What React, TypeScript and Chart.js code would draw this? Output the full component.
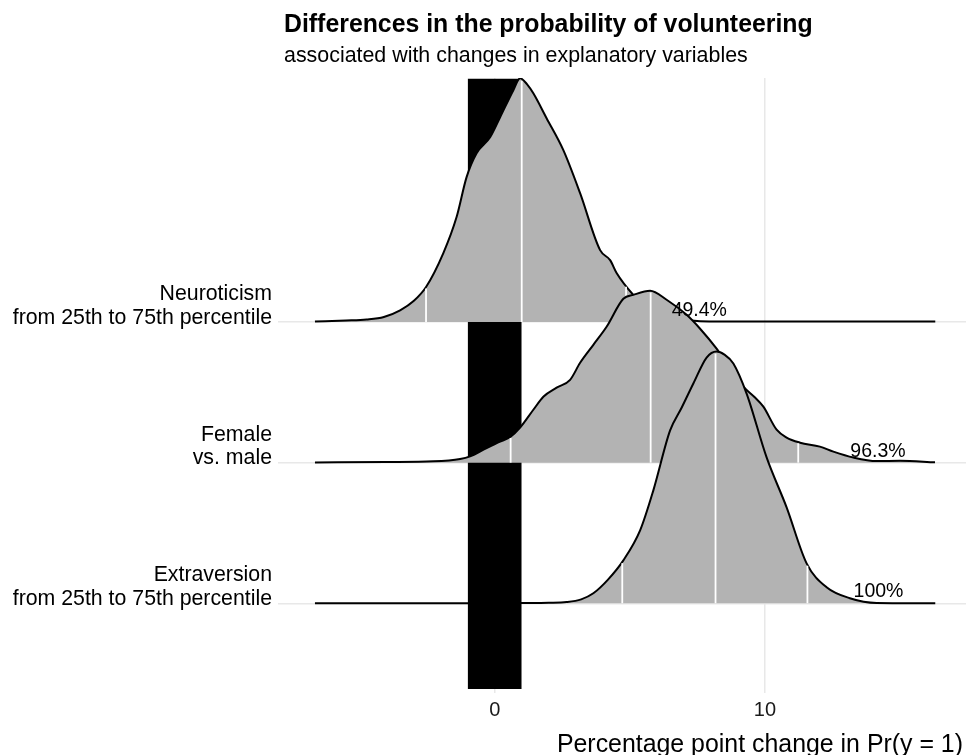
import React, { useEffect, useRef } from 'react';
import { Chart, registerables } from 'chart.js';

Chart.register(...registerables);

const FONT = '"Liberation Sans", Arial, Helvetica, sans-serif';

// Ridge categories (top to bottom) and their baselines on the y scale
const categories = ['Neuroticism', 'Female', 'Extraversion'];
const categoryLabels = [
  ['Neuroticism', 'from 25th to 75th percentile'],
  ['Female', 'vs. male'],
  ['Extraversion', 'from 25th to 75th percentile'],
];
const baselines = [3, 2, 1];

// Density curves (x = percentage-point change, h = ridge height in y units)
const neuroX = [-6.65, -5.5, -4.74, -4.1, -3.5, -3.0, -2.54, -1.9, -1.41, -1.04, -0.67, -0.17, 0.2, 0.69, 0.94, 1.2, 1.43, 1.92, 2.54, 3.16, 3.9, 4.27, 4.51, 5.13, 5.6, 6.1, 6.6, 7.1, 7.6, 8.5, 16.3];
const neuroH = [0.0036, 0.0107, 0.0178, 0.0355, 0.0831, 0.149, 0.249, 0.49, 0.746, 1.03, 1.2, 1.314, 1.456, 1.648, 1.733, 1.69, 1.626, 1.449, 1.222, 0.916, 0.511, 0.44, 0.348, 0.192, 0.107, 0.057, 0.028, 0.014, 0.006, 0.004, 0.003];

const femaleX = [-6.65, -4, -2.27, -1.28, -0.91, -0.3, 0.2, 0.59, 0.94, 1.43, 1.8, 2.29, 2.79, 3.16, 3.65, 4.14, 4.76, 5.13, 5.75, 6.36, 7.1, 7.6, 8.21, 8.7, 9.2, 9.6, 9.94, 10.43, 10.8, 11.3, 12.03, 12.53, 13.27, 14.13, 15, 16.29];
const femaleH = [0.0014, 0.0043, 0.0092, 0.026, 0.045, 0.104, 0.149, 0.185, 0.249, 0.376, 0.469, 0.533, 0.589, 0.71, 0.838, 0.966, 1.165, 1.193, 1.222, 1.158, 1.051, 0.952, 0.81, 0.675, 0.54, 0.469, 0.398, 0.234, 0.178, 0.142, 0.114, 0.078, 0.036, 0.011, 0.014, 0.002];

const extraX = [-6.65, 0, 1.0, 2.0, 2.66, 3.2, 3.65, 4.2, 4.76, 5.38, 5.87, 6.49, 6.92, 7.35, 7.84, 8.21, 8.5, 8.83, 9.32, 10.06, 10.8, 11.54, 12.28, 13.14, 14.13, 16.3];
const extraH = [0, 0.0007, 0.002, 0.004, 0.009, 0.028, 0.071, 0.17, 0.305, 0.518, 0.803, 1.229, 1.392, 1.5625, 1.747, 1.79, 1.768, 1.705, 1.491, 1.037, 0.682, 0.284, 0.114, 0.036, 0.002, 0];

// Quantile lines (2.5%, 50%, 97.5%) per ridge
const quantiles = [
  [-2.54, 1.0, 4.86],
  [0.59, 5.77, 11.23],
  [4.72, 8.17, 11.57],
];

// Share of posterior above zero
const shareLabels = ['49.4%', '96.3%', '100%'];
const shareLabelX = [7.57, 14.18, 14.2];

// Region of practical equivalence (black band)
const ropeLow = -1;
const ropeHigh = 1;

const xTicks = [0, 10];
const xMin = -8.017;
const xMax = 17.437;
const yMin = 0.362;
const yMax = 4.735;
const ropeTop = 4.73;
const ropeBottom = 0.391;

const titleText = 'Differences in the probability of volunteering';
const subtitleText = 'associated with changes in explanatory variables';
const xTitleText = 'Percentage point change in Pr(y = 1)';

const curvesX = [neuroX, femaleX, extraX];
const curvesH = [neuroH, femaleH, extraH];

function heightAt(xs: number[], hs: number[], x: number): number {
  for (let i = 0; i < xs.length - 1; i++) {
    if (x >= xs[i] && x <= xs[i + 1]) {
      const t = (x - xs[i]) / (xs[i + 1] - xs[i]);
      return hs[i] + t * (hs[i + 1] - hs[i]);
    }
  }
  return 0;
}

const textPlugin = {
  id: 'ridgeText',
  afterDatasetsDraw(chart: any) {
    const ctx = chart.ctx;
    const xs = chart.scales.x;
    const ys = chart.scales.y;
    const area = chart.chartArea;
    ctx.save();
    ctx.fillStyle = '#000';

    // share labels
    ctx.font = `19.5px ${FONT}`;
    ctx.textAlign = 'center';
    ctx.textBaseline = 'middle';
    shareLabels.forEach((lab, i) => {
      ctx.fillText(lab, xs.getPixelForValue(shareLabelX[i]), ys.getPixelForValue(baselines[i]) - 11.5);
    });

    // category labels
    ctx.font = `21.3px ${FONT}`;
    ctx.textAlign = 'right';
    ctx.textBaseline = 'alphabetic';
    categoryLabels.forEach((lines, i) => {
      const by = ys.getPixelForValue(baselines[i]) + 1.5;
      const n = lines.length;
      lines.forEach((ln, j) => {
        ctx.fillText(ln, area.left - 6, by - (n - 1 - j) * 23.3);
      });
    });

    // title & subtitle
    ctx.textAlign = 'left';
    ctx.font = `bold 24.85px ${FONT}`;
    ctx.fillText(titleText, 284, 31.5);
    ctx.font = `21.4px ${FONT}`;
    ctx.fillText(subtitleText, 284, 61.5);

    // x axis title
    ctx.textAlign = 'right';
    ctx.font = `24.9px ${FONT}`;
    ctx.fillText(xTitleText, 963, 751.5);
    ctx.restore();
  },
};

export default function App() {
  const canvasRef = useRef<HTMLCanvasElement | null>(null);

  useEffect(() => {
    if (!canvasRef.current) return;
    const datasets: any[] = [];

    datasets.push({
      label: 'rope',
      data: [
        { x: ropeLow, y: ropeTop },
        { x: ropeHigh, y: ropeTop },
      ],
      borderWidth: 0,
      borderColor: 'rgba(0,0,0,0)',
      backgroundColor: '#000',
      fill: { value: ropeBottom },
      pointRadius: 0,
      order: 100,
    });

    categories.forEach((cat, i) => {
      const base = baselines[i];
      const xsArr = curvesX[i];
      const hsArr = curvesH[i];
      datasets.push({
        label: cat,
        data: xsArr.map((x, k) => ({ x, y: base + hsArr[k] })),
        borderColor: '#000',
        borderWidth: 2,
        backgroundColor: '#b3b3b3',
        fill: { value: base },
        pointRadius: 0,
        cubicInterpolationMode: 'monotone',
        order: 90 - i * 10,
      });
      quantiles[i].forEach((q, k) => {
        const top = heightAt(xsArr, hsArr, q) - 0.01;
        datasets.push({
          label: `${cat}-q${k}`,
          data: [
            { x: q, y: base },
            { x: q, y: base + Math.max(top, 0) },
          ],
          borderColor: '#ffffff',
          borderWidth: 1.8,
          pointRadius: 0,
          fill: false,
          order: 85 - i * 10,
        });
      });
    });

    const chart = new Chart(canvasRef.current, {
      type: 'line',
      data: { datasets },
      options: {
        animation: false,
        responsive: false,
        maintainAspectRatio: false,
        layout: { padding: { left: 278, right: 0, top: 78, bottom: 0 } },
        plugins: {
          legend: { display: false },
          tooltip: { enabled: false },
          title: { display: false },
        },
        scales: {
          x: {
            type: 'linear',
            min: xMin,
            max: xMax,
            afterBuildTicks: (scale: any) => {
              scale.ticks = xTicks.map((v) => ({ value: v }));
            },
            afterFit: (scale: any) => {
              scale.height = 62;
            },
            ticks: {
              color: '#1a1a1a',
              font: { family: FONT, size: 20 },
              padding: 5,
              maxRotation: 0,
              autoSkip: false,
            },
            grid: { color: '#e8e8e8', lineWidth: 1.5, drawTicks: false },
            border: { display: false },
          },
          y: {
            type: 'linear',
            min: yMin,
            max: yMax,
            afterBuildTicks: (scale: any) => {
              scale.ticks = baselines.map((v) => ({ value: v }));
            },
            afterFit: (scale: any) => {
              scale.width = 0;
            },
            ticks: { display: false },
            grid: { color: '#e8e8e8', lineWidth: 1.5, drawTicks: false },
            border: { display: false },
          },
        },
      },
      plugins: [textPlugin],
    });
    return () => chart.destroy();
  }, []);

  return (
    <div style={{ position: 'fixed', left: 0, top: 0, width: 966, height: 755, background: '#fff' }}>
      <canvas ref={canvasRef} width={966} height={755} style={{ width: 966, height: 755, display: 'block' }} />
    </div>
  );
}
